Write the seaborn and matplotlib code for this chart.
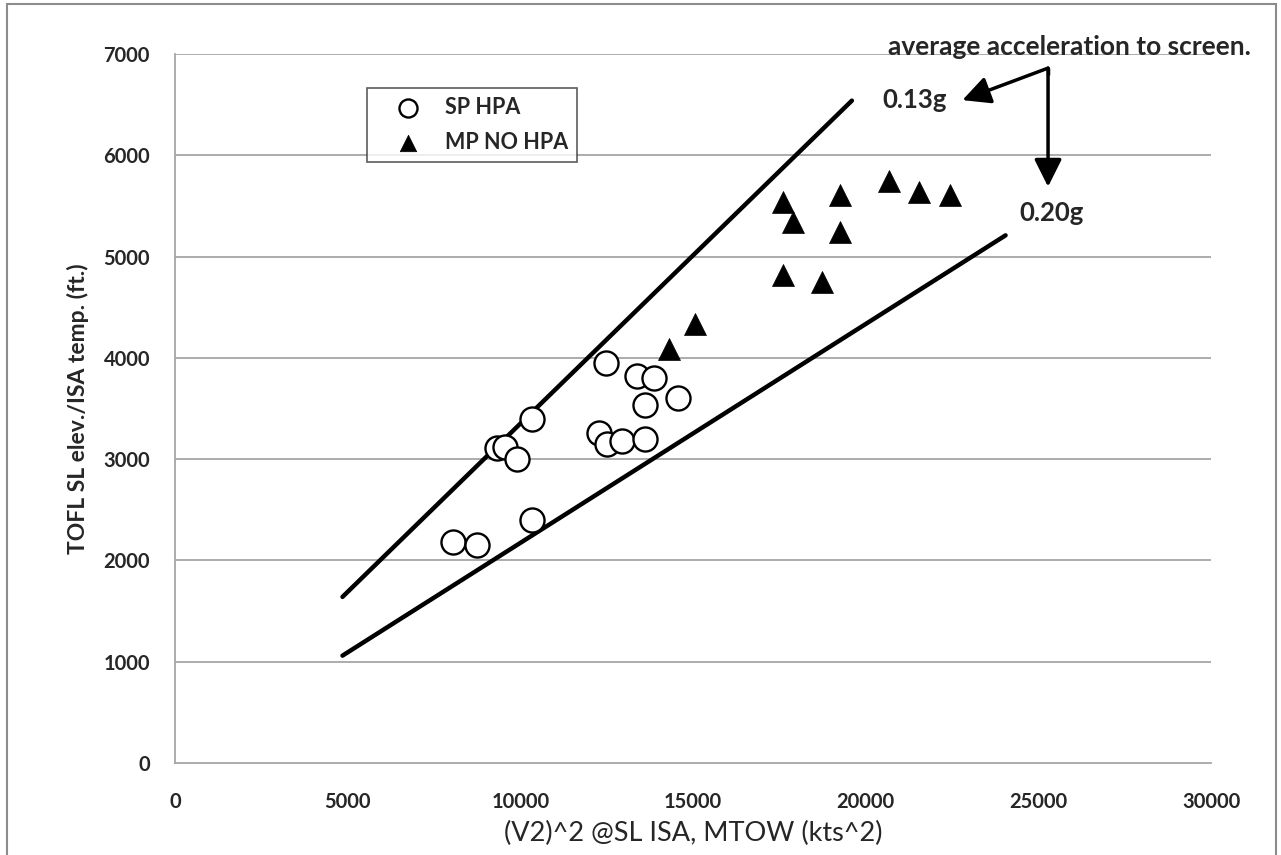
import matplotlib
matplotlib.use("Agg")
import matplotlib.pyplot as plt
from matplotlib.patches import Rectangle
import seaborn as sns
import pandas as pd

# Single-pilot aircraft with high-performance approach (SP HPA)
sp_v2sq = [8050, 8750, 9330, 9560, 9900, 10340, 10340, 12280, 12510, 12950,
           13610, 12480, 13380, 13870, 13610, 14570]
sp_tofl = [2180, 2150, 3110, 3120, 3000, 3400, 2400, 3260, 3150, 3180,
           3200, 3950, 3820, 3800, 3530, 3600]

# Multi-pilot aircraft without HPA (MP NO HPA)
mp_v2sq = [17610, 17900, 19260, 19260, 20680, 21550, 22440, 17610, 18740,
           14310, 15060]
mp_tofl = [5540, 5340, 5610, 5240, 5750, 5640, 5610, 4820, 4750, 4090, 4330]

# Constant average acceleration guide lines (end points)
g013_x = [4850, 19600]
g013_y = [1640, 6540]
g020_x = [4850, 24050]
g020_y = [1060, 5210]

x_ticks = [0, 5000, 10000, 15000, 20000, 25000, 30000]
y_ticks = [0, 1000, 2000, 3000, 4000, 5000, 6000, 7000]

sns.set_theme(style="white")
plt.rcParams["font.family"] = ["Lato", "DejaVu Sans"]

fig = plt.figure(figsize=(12.81, 8.55), dpi=100)
ax = fig.add_axes([0.1366, 0.1076, 0.8088, 0.8292])

grid_c = "#a6a6a6"
for yv in y_ticks[1:]:
    ax.axhline(yv, color=grid_c, lw=1.3, zorder=0)

lines = pd.DataFrame({
    "x": g013_x + g020_x,
    "y": g013_y + g020_y,
    "g": ["0.13g"] * 2 + ["0.20g"] * 2,
})
sns.lineplot(data=lines, x="x", y="y", units="g", estimator=None,
             color="black", lw=3.2, legend=False, ax=ax, zorder=2)

sns.scatterplot(x=sp_v2sq, y=sp_tofl, marker="o", s=300, facecolor="white",
                edgecolor="black", linewidth=1.7, label="SP HPA", ax=ax,
                zorder=3)
sns.scatterplot(x=mp_v2sq, y=mp_tofl, marker="^", s=250, color="black",
                edgecolor="black", linewidth=0.5, label="MP NO HPA", ax=ax,
                zorder=3)

ax.set_xlim(0, 30000)
ax.set_ylim(0, 7000)
ax.set_xticks(x_ticks)
ax.set_yticks(y_ticks)
ax.set_xticklabels([str(v) for v in x_ticks], fontsize=14.5, fontweight="bold")
ax.set_yticklabels([str(v) for v in y_ticks], fontsize=14.5, fontweight="bold")
ax.tick_params(axis="both", which="major", direction="out", length=7,
               width=1.3, color=grid_c)
ax.tick_params(axis="x", pad=14)
ax.tick_params(axis="y", length=10, pad=8)

for side in ["top", "right"]:
    ax.spines[side].set_visible(False)
for side in ["left", "bottom"]:
    ax.spines[side].set_color(grid_c)
    ax.spines[side].set_linewidth(1.3)

ax.set_xlabel("(V2)^2 @SL ISA, MTOW (kts^2)", fontsize=19.5, labelpad=6)
ax.set_ylabel("TOFL SL elev./ISA temp. (ft.)", fontsize=16.5,
              fontweight="bold", labelpad=10)

leg = ax.legend(loc="upper left", bbox_to_anchor=(0.185, 0.952),
                borderaxespad=0, frameon=True, fancybox=False,
                markerscale=0.75, handlelength=3.0, handletextpad=0.2,
                borderpad=0.42, labelspacing=0.65,
                prop={"weight": "bold", "size": 15.5})
leg.get_frame().set_edgecolor("#333333")
leg.get_frame().set_linewidth(1.2)

# Annotation: average acceleration to screen
ax.text(25890, 7068, "average acceleration to screen.", fontsize=19,
        fontweight="bold", ha="center", va="center", clip_on=False)
ax.text(20480, 6545, "0.13g", fontsize=18.5, fontweight="bold",
        ha="left", va="center")
ax.text(24450, 5430, "0.20g", fontsize=18.5, fontweight="bold",
        ha="left", va="center")

arrow_kw = dict(arrowstyle="-|>", mutation_scale=42, lw=2.5, color="black",
                shrinkA=0, shrinkB=0)
ax.plot([25280, 25280], [6790, 6861], color="black", lw=2.5,
        solid_capstyle="butt", clip_on=False)
ax.annotate("", xy=(22800, 6545), xytext=(25280, 6861),
            arrowprops=arrow_kw, annotation_clip=False)
ax.annotate("", xy=(25280, 5690), xytext=(25280, 6861),
            arrowprops=arrow_kw, annotation_clip=False)

# Chart-area border
fig.patches.append(Rectangle((7 / 1281, -0.02), 1269 / 1281, 1 - 4 / 855 + 0.02,
                             transform=fig.transFigure, fill=False,
                             edgecolor="#8c8c8c", lw=1.5))

fig.savefig("out.png", dpi=100)
